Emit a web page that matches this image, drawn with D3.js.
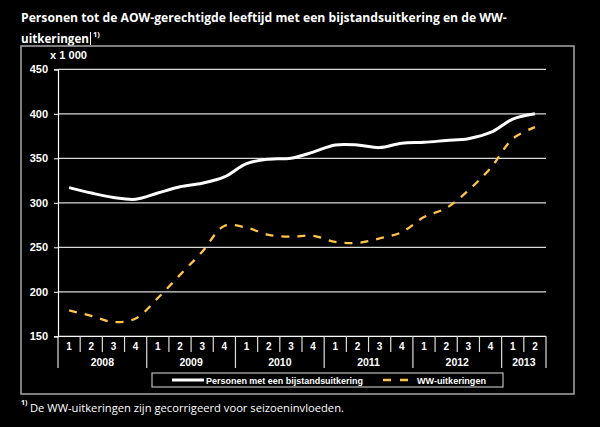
<!DOCTYPE html>
<html><head><meta charset="utf-8">
<script src="https://cdn.jsdelivr.net/npm/d3@7"></script>
<style>html,body{margin:0;padding:0;background:#000;}svg{display:block;}</style>
</head><body>
<script>
const years = ["2008","2009","2010","2011","2012","2013"];
const quarters = ["1","2","3","4","1","2","3","4","1","2","3","4","1","2","3","4","1","2","3","4","1","2"];
const quarterYear = ["2008","2008","2008","2008","2009","2009","2009","2009","2010","2010","2010","2010","2011","2011","2011","2011","2012","2012","2012","2012","2013","2013"];
const bijstand = [317,311,306,304,311,318,322,329,344,349,350,357,365,365,362,367,368,370,372,379,394,400];
const ww = [179,173,166,170,193,219,245,274,272,264,262,263,256,255,260,267,284,294,314,339,372,385];
const yTicks = [150,200,250,300,350,400,450];
const seriesNames = ["Personen met een bijstandsuitkering","WW-uitkeringen"];

const W=600,H=427;
const svg=d3.select("body").append("svg").attr("width",W).attr("height",H);
svg.append("rect").attr("width",W).attr("height",H).attr("fill","#000");

const titleFont="'Open Sans','Noto Sans',sans-serif";
const axFont="'Liberation Sans',Arial,sans-serif";

// fit a text's font size so its natural width matches a target width
function fit(sel,target){
  const n=sel.node();const fs=+sel.attr("font-size");
  const w=n.getComputedTextLength();
  if(w>0) sel.attr("font-size",(fs*target/w).toFixed(2));
  return sel;
}

// Title
fit(svg.append("text").attr("x",21).attr("y",22).attr("fill","#fff")
  .attr("font-family",titleFont).attr("font-weight","bold").attr("font-size",13.5)
  .text("Personen tot de AOW-gerechtigde leeftijd met een bijstandsuitkering en de WW-"),486);
fit(svg.append("text").attr("x",21).attr("y",43).attr("fill","#fff")
  .attr("font-family",titleFont).attr("font-weight","bold").attr("font-size",13.5)
  .text("uitkeringen"),68);
svg.append("line").attr("x1",90.5).attr("x2",90.5).attr("y1",32).attr("y2",45).attr("stroke","#fff").attr("stroke-width",1);
svg.append("text").attr("x",93).attr("y",37).attr("fill","#fff")
  .attr("font-family",titleFont).attr("font-weight","bold").attr("font-size",7.5).text("1)");

// Frame
svg.append("rect").attr("x",21).attr("y",46).attr("width",553).attr("height",348)
  .attr("fill","none").attr("stroke","#a8a8a8").attr("stroke-width",1.5);

// Scales
const x0=58,x1=546,yTop=69.3,yBot=336.3;
const x=d3.scaleBand().domain(d3.range(quarters.length)).range([x0,x1]).padding(0);
const y=d3.scaleLinear().domain([150,450]).range([yBot,yTop]);
const cx=i=>x(i)+x.bandwidth()/2;

// Grid
svg.append("g").selectAll("line").data(yTicks.slice(1)).join("line")
  .attr("x1",x0).attr("x2",x1).attr("y1",d=>y(d)).attr("y2",d=>y(d))
  .attr("stroke","#d8d8d8").attr("stroke-width",1.2);

// Y axis
const yAxis=svg.append("g").attr("transform",`translate(${x0},0)`)
  .call(d3.axisLeft(y).tickValues(yTicks).tickSize(4).tickPadding(6));
yAxis.select(".domain").attr("stroke","#fff").attr("stroke-width",1.2);
yAxis.selectAll(".tick line").attr("stroke","#fff");
yAxis.selectAll("text").attr("fill","#fff").attr("font-family",axFont).attr("font-weight","bold").attr("font-size",11);

fit(svg.append("text").attr("x",50).attr("y",59).attr("fill","#fff")
  .attr("font-family",axFont).attr("font-weight","bold").attr("font-size",9.5).text("x 1 000"),37);

// Category axis
svg.append("line").attr("x1",x0).attr("x2",x1).attr("y1",yBot).attr("y2",yBot).attr("stroke","#fff").attr("stroke-width",1.2);
const cat=svg.append("g");
const bounds=d3.range(quarters.length+1);
cat.selectAll("line").data(bounds).join("line")
  .attr("x1",i=>i<quarters.length?x(i):x1).attr("x2",i=>i<quarters.length?x(i):x1)
  .attr("y1",yBot)
  .attr("y2",i=>(i===0||i===quarters.length||quarterYear[i]!==quarterYear[i-1])?368:352)
  .attr("stroke","#ddd").attr("stroke-width",1.2);
cat.selectAll("text.q").data(quarters).join("text").attr("class","q")
  .attr("x",(d,i)=>cx(i)).attr("y",350).attr("text-anchor","middle").attr("fill","#fff")
  .attr("font-family",axFont).attr("font-weight","bold").attr("font-size",10).text(d=>d);
cat.selectAll("text.y").data(years).join("text").attr("class","y")
  .attr("x",yr=>{const idx=quarterYear.map((q,i)=>q===yr?i:-1).filter(i=>i>=0);return (x(idx[0])+x(idx[idx.length-1])+x.bandwidth())/2;})
  .attr("y",366).attr("text-anchor","middle").attr("fill","#fff")
  .attr("font-family",axFont).attr("font-weight","bold").attr("font-size",10.5).text(d=>d);

// Lines
const line=d3.line().x((d,i)=>cx(i)).y(d=>y(d)).curve(d3.curveCatmullRom.alpha(0.5));
svg.append("path").datum(bijstand).attr("d",line).attr("fill","none")
  .attr("stroke","#fff").attr("stroke-width",3).attr("stroke-linejoin","round");
svg.append("path").datum(ww).attr("d",line).attr("fill","none")
  .attr("stroke","#ffc448").attr("stroke-width",2.3).attr("stroke-dasharray","8,8");

// Legend
svg.append("rect").attr("x",152).attr("y",373).attr("width",351).attr("height",14)
  .attr("fill","#000").attr("stroke","#bbb").attr("stroke-width",1.2);
svg.append("line").attr("x1",172).attr("x2",204).attr("y1",380).attr("y2",380).attr("stroke","#fff").attr("stroke-width",3);
svg.append("text").attr("x",206).attr("y",383.5).attr("fill","#fff").attr("font-family",axFont)
  .attr("font-weight","bold").attr("font-size",8.5).attr("textLength",157).attr("lengthAdjust","spacingAndGlyphs").text(seriesNames[0]);
svg.append("line").attr("x1",383).attr("x2",408).attr("y1",380).attr("y2",380).attr("stroke","#ffc448").attr("stroke-width",2.3).attr("stroke-dasharray","8,9");
svg.append("text").attr("x",417).attr("y",383.5).attr("fill","#fff").attr("font-family",axFont)
  .attr("font-weight","bold").attr("font-size",8.5).attr("textLength",69).attr("lengthAdjust","spacingAndGlyphs").text(seriesNames[1]);

// Footnote
svg.append("text").attr("x",21).attr("y",405).attr("fill","#fff").attr("font-family",titleFont)
  .attr("font-weight","bold").attr("font-size",7).text("1)");
fit(svg.append("text").attr("x",30).attr("y",412).attr("fill","#fff").attr("font-family",titleFont)
  .attr("font-size",12)
  .text("De WW-uitkeringen zijn gecorrigeerd voor seizoeninvloeden."),314);
</script>
</body></html>
